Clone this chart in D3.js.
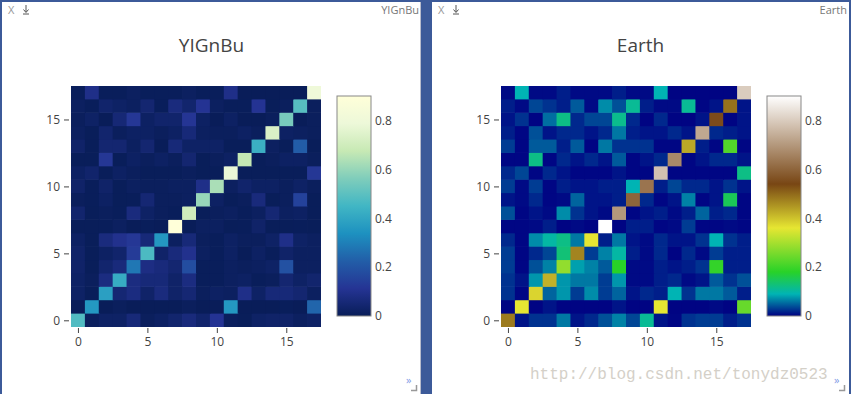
<!DOCTYPE html>
<html>
<head>
<meta charset="utf-8">
<script src="https://cdn.jsdelivr.net/npm/d3@7"></script>
<style>
  html, body { margin: 0; padding: 0; background: #3c5a99; }
  svg { display: block; font-family: "Open Sans", Verdana, Arial, sans-serif; }
</style>
</head>
<body>
<svg id="chart" width="851" height="394"></svg>
<script>
// categories on both axes
const cats = [0, 1, 2, 3, 4, 5, 6, 7, 8, 9, 10, 11, 12, 13, 14, 15, 16, 17];
const axisTicks = [0, 5, 10, 15];
const barTicks = [0, 0.2, 0.4, 0.6, 0.8];
const titles = ['YIGnBu', 'Earth'];

// z[row][col], row 0 is the bottom row
const z = [
  [0.48, 0.01, 0.025, 0.025, 0.06, 0.01, 0.02, 0.04, 0.065, 0.035, 0.11, 0.01, 0.003, 0.025, 0.03, 0.03, 0.015, 0.025],
  [0.002, 0.36, 0.002, 0.01, 0.002, 0.002, 0.002, 0.002, 0.01, 0.002, 0.002, 0.36, 0.002, 0.002, 0.002, 0.005, 0.002, 0.24],
  [0.025, 0.003, 0.38, 0.05, 0.075, 0.03, 0.07, 0.03, 0.05, 0.01, 0.02, 0.015, 0.09, 0.025, 0.06, 0.06, 0.045, 0.015],
  [0.025, 0.01, 0.075, 0.42, 0.075, 0.06, 0.06, 0.03, 0.075, 0.005, 0.005, 0.015, 0.02, 0.005, 0.01, 0.045, 0.025, 0.04],
  [0.03, 0.003, 0.04, 0.065, 0.28, 0.08, 0.065, 0.045, 0.18, 0.005, 0.005, 0.015, 0.01, 0.015, 0.025, 0.19, 0.015, 0.015],
  [0.03, 0.003, 0.02, 0.035, 0.13, 0.47, 0.03, 0.065, 0.1, 0.015, 0.005, 0.02, 0.002, 0.02, 0.005, 0.03, 0.015, 0.015],
  [0.02, 0.003, 0.07, 0.1, 0.12, 0.06, 0.36, 0.015, 0.06, 0.01, 0.005, 0.02, 0.01, 0.01, 0.025, 0.09, 0.025, 0.015],
  [0.003, 0.003, 0.005, 0.015, 0.002, 0.005, 0.002, 0.9, 0.002, 0.015, 0.015, 0.003, 0.005, 0.03, 0.003, 0.003, 0.005, 0.003],
  [0.04, 0.003, 0.01, 0.005, 0.07, 0.025, 0.01, 0.005, 0.70, 0.003, 0.01, 0.015, 0.005, 0.015, 0.05, 0.015, 0.02, 0.003],
  [0.01, 0.005, 0.02, 0.003, 0.005, 0.05, 0.01, 0.01, 0.015, 0.60, 0.02, 0.003, 0.01, 0.065, 0.003, 0.01, 0.15, 0.003],
  [0.03, 0.005, 0.03, 0.003, 0.015, 0.01, 0.01, 0.015, 0.015, 0.09, 0.63, 0.015, 0.035, 0.02, 0.02, 0.01, 0.025, 0.01],
  [0.02, 0.035, 0.003, 0.02, 0.01, 0.003, 0.003, 0.003, 0.01, 0.003, 0.003, 0.78, 0.003, 0.003, 0.003, 0.003, 0.003, 0.12],
  [0.003, 0.003, 0.12, 0.003, 0.02, 0.01, 0.02, 0.01, 0.045, 0.003, 0.01, 0.02, 0.67, 0.003, 0.01, 0.02, 0.02, 0.01],
  [0.03, 0.003, 0.045, 0.045, 0.015, 0.045, 0.002, 0.06, 0.025, 0.025, 0.025, 0.003, 0.003, 0.43, 0.015, 0.003, 0.22, 0.003],
  [0.015, 0.003, 0.04, 0.01, 0.02, 0.02, 0.01, 0.02, 0.06, 0.015, 0.01, 0.01, 0.02, 0.01, 0.73, 0.02, 0.015, 0.01],
  [0.01, 0.025, 0.002, 0.055, 0.12, 0.02, 0.035, 0.035, 0.115, 0.02, 0.002, 0.02, 0.002, 0.002, 0.01, 0.55, 0.002, 0.01],
  [0.015, 0.005, 0.035, 0.025, 0.015, 0.045, 0.005, 0.07, 0.04, 0.11, 0.015, 0.005, 0.005, 0.11, 0.003, 0.01, 0.49, 0.01],
  [0.005, 0.09, 0.005, 0.005, 0.015, 0.005, 0.005, 0.005, 0.015, 0.005, 0.005, 0.09, 0.002, 0.002, 0.002, 0.002, 0.002, 0.8]
];

// colorscales: [fraction, colour]
const ylgnbu = [
  [0, 'rgb(8,29,88)'], [0.125, 'rgb(37,52,148)'], [0.25, 'rgb(34,94,168)'],
  [0.375, 'rgb(29,145,192)'], [0.5, 'rgb(65,182,196)'], [0.625, 'rgb(127,205,187)'],
  [0.75, 'rgb(199,233,180)'], [0.875, 'rgb(237,248,217)'], [1, 'rgb(255,255,217)']
];
const earth = [
  [0, 'rgb(0,0,130)'], [0.1, 'rgb(0,180,180)'], [0.2, 'rgb(40,210,40)'],
  [0.4, 'rgb(230,230,50)'], [0.6, 'rgb(120,70,20)'], [1, 'rgb(255,255,255)']
];

const svg = d3.select('#chart');
const zMax = d3.max(z, r => d3.max(r));
const textCol = '#444';

// two panels, same data, different colorscale
const panels = [
  { dx: 0, x0: 2, x1: 421, scale: ylgnbu, title: titles[0] },
  { dx: 430, x0: 432, x1: 849, scale: earth, title: titles[1] }
];

const defs = svg.append('defs');

panels.forEach((p, pi) => {
  const g = svg.append('g');
  g.append('rect')
    .attr('x', p.x0).attr('y', 2)
    .attr('width', p.x1 - p.x0).attr('height', 392)
    .attr('fill', '#fff');

  // header bits
  g.append('text')
    .attr('x', p.x0 + 6).attr('y', 14)
    .attr('font-size', 11).attr('fill', '#999')
    .text('X');
  const ix = p.x0 + 24;
  g.append('path')
    .attr('d', `M${ix},5V12M${ix - 2.5},9.5L${ix},12.5L${ix + 2.5},9.5M${ix - 3},14H${ix + 3}`)
    .attr('stroke', '#555').attr('fill', 'none').attr('stroke-width', 1);
  g.append('text')
    .attr('x', p.x1 - 2).attr('y', 14)
    .attr('text-anchor', 'end')
    .attr('font-size', 11).attr('fill', '#777')
    .text(p.title);

  // title
  g.append('text')
    .attr('x', (p.x0 + p.x1) / 2).attr('y', 52)
    .attr('text-anchor', 'middle')
    .attr('font-size', 19).attr('fill', textCol)
    .text(p.title);

  // scales
  const x = d3.scaleBand().domain(cats).range([71 + p.dx, 321 + p.dx]);
  const y = d3.scaleBand().domain(cats).range([327, 86]);
  const color = d3.scaleLinear()
    .domain(p.scale.map(s => s[0] * zMax))
    .range(p.scale.map(s => s[1]))
    .interpolate(d3.interpolateRgb)
    .clamp(true);

  const cells = [];
  z.forEach((row, ri) => row.forEach((v, ci) => cells.push({ r: cats[ri], c: cats[ci], v })));

  // small overlap so no seams show between cells
  g.append('g')
    .selectAll('rect')
    .data(cells)
    .join('rect')
    .attr('x', d => x(d.c))
    .attr('y', d => y(d.r) - (d.r === 17 ? 0 : 0.6))
    .attr('width', d => x.bandwidth() + (d.c === 17 ? 0 : 0.8))
    .attr('height', d => y.bandwidth() + (d.r === 17 ? 0 : 0.6))
    .attr('fill', d => color(d.v));

  // axes on linear scales centred on the cells
  const xl = d3.scaleLinear().domain([-0.5, 17.5]).range([71 + p.dx, 321 + p.dx]);
  const yl = d3.scaleLinear().domain([-0.5, 17.5]).range([327, 86]);

  const xAxis = g.append('g')
    .attr('transform', 'translate(0,328)')
    .call(d3.axisBottom(xl).tickValues(axisTicks).tickSize(5).tickPadding(4).tickSizeOuter(0));
  const yAxis = g.append('g')
    .attr('transform', `translate(${69 + p.dx},0)`)
    .call(d3.axisLeft(yl).tickValues(axisTicks).tickSize(5).tickPadding(4).tickSizeOuter(0));
  [xAxis, yAxis].forEach(a => {
    a.select('.domain').remove();
    a.selectAll('line').attr('stroke', textCol);
    a.selectAll('text').attr('fill', textCol).attr('font-size', 12)
      .attr('font-family', '"Open Sans", Verdana, Arial, sans-serif');
  });

  // colorbar
  const cb = d3.scaleLinear().domain([0, zMax]).range([316, 96]);
  const gid = 'grad' + pi;
  const grad = defs.append('linearGradient')
    .attr('id', gid).attr('x1', 0).attr('y1', 1).attr('x2', 0).attr('y2', 0);
  grad.selectAll('stop')
    .data(p.scale)
    .join('stop')
    .attr('offset', d => d[0])
    .attr('stop-color', d => d[1]);
  g.append('rect')
    .attr('x', 337 + p.dx).attr('y', 96)
    .attr('width', 34).attr('height', 220)
    .attr('fill', `url(#${gid})`)
    .attr('stroke', '#888').attr('stroke-width', 1);
  const cbAxis = g.append('g')
    .attr('transform', `translate(${372 + p.dx},0)`)
    .call(d3.axisRight(cb).tickValues(barTicks).tickSize(0).tickPadding(3)
      .tickFormat(d => d === 0 ? '0' : d3.format('.1f')(d)));
  cbAxis.select('.domain').remove();
  cbAxis.selectAll('text').attr('fill', textCol).attr('font-size', 12)
    .attr('font-family', '"Open Sans", Verdana, Arial, sans-serif');

  // footer bits
  g.append('text')
    .attr('x', p.x1 - 15).attr('y', 384)
    .attr('font-size', 11).attr('fill', '#7f9be6')
    .text('»');
  g.append('path')
    .attr('d', `M${p.x1 - 10},390.5H${p.x1 - 4.5}V385`)
    .attr('stroke', '#999').attr('fill', 'none').attr('stroke-width', 1.5);
});

// thin lighter edge on the divider
svg.append('rect').attr('x', 420).attr('y', 2).attr('width', 1).attr('height', 392).attr('fill', '#b8bccc');

// blog watermark
svg.append('text')
  .attr('x', 530).attr('y', 379)
  .attr('font-family', '"Liberation Mono", "DejaVu Sans Mono", monospace')
  .attr('font-size', 16)
  .attr('fill', '#d4d0c8')
  .text('http://blog.csdn.net/tonydz0523');
</script>
</body>
</html>
